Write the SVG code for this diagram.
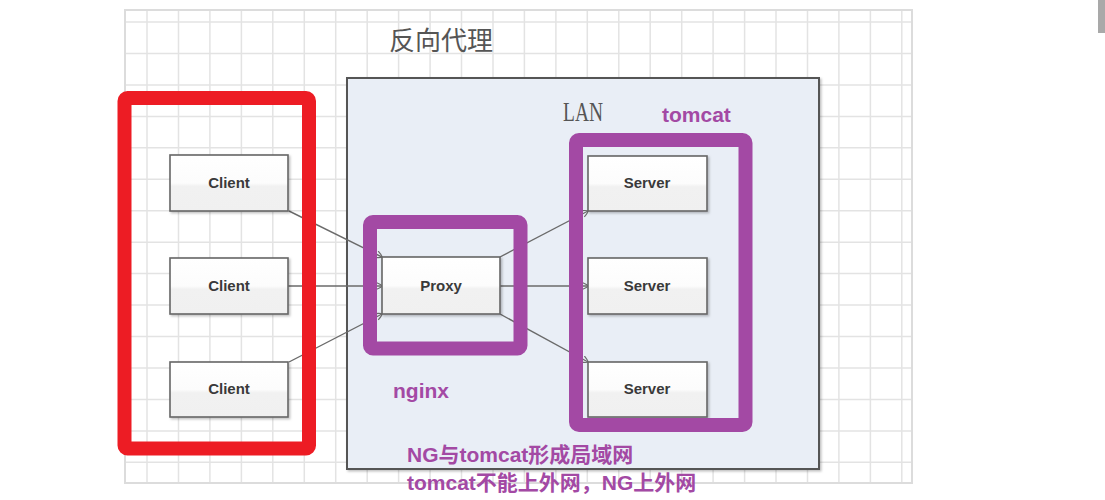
<svg xmlns="http://www.w3.org/2000/svg" width="1105" height="500" viewBox="0 0 1105 500">
<style>
.grid{stroke:#e3e3e3;stroke-width:1.5;fill:none}
.box{fill:url(#boxg);stroke:#666;stroke-width:1.6}
.lbl{font-family:"Liberation Sans","DejaVu Sans",sans-serif;font-weight:bold;font-size:15px;fill:#3a3a3a;text-anchor:middle}
.conn{stroke:#6a6a6a;stroke-width:1.4;fill:none;marker-end:url(#arr)}
.purple{fill:#a349a4;font-family:"Liberation Sans","Noto Sans CJK SC",sans-serif;font-weight:bold;font-size:21px}
.hl{fill:none;stroke-width:14;stroke-linejoin:round}
</style>
<defs>
<linearGradient id="boxg" x1="0" y1="0" x2="0" y2="1">
<stop offset="0" stop-color="#ffffff"/>
<stop offset="0.5" stop-color="#fcfcfc"/>
<stop offset="0.56" stop-color="#f1f1f1"/>
<stop offset="1" stop-color="#f0f0f0"/>
</linearGradient>
<marker id="arr" markerWidth="10" markerHeight="10" refX="7" refY="4" orient="auto" markerUnits="userSpaceOnUse">
<path d="M1,0.5 Q7,3 7,4 Q7,5 1,7.5" fill="none" stroke="#6a6a6a" stroke-width="1.2"/>
</marker>
<filter id="sh" x="-10%" y="-10%" width="130%" height="130%">
<feDropShadow dx="1.5" dy="1.5" stdDeviation="1" flood-color="#000" flood-opacity="0.25"/>
</filter>
</defs>
<rect width="1105" height="500" fill="#ffffff"/>
<g id="background">
<rect x="125" y="10" width="787" height="473" fill="#ffffff" stroke="#dcdcdc" stroke-width="2"/>
<path class="grid" d="M147,11V482M178.5,11V482M209.9,11V482M241.4,11V482M272.8,11V482M304.3,11V482M335.7,11V482M367.2,11V482M398.6,11V482M430.1,11V482M461.5,11V482M493,11V482M524.4,11V482M555.9,11V482M587.3,11V482M618.8,11V482M650.2,11V482M681.7,11V482M713.1,11V482M744.6,11V482M776,11V482M807.5,11V482M838.9,11V482M870.4,11V482M901.8,11V482"/>
<path class="grid" d="M126,22H911M126,53.5H911M126,84.9H911M126,116.4H911M126,147.8H911M126,179.3H911M126,210.7H911M126,242.2H911M126,273.6H911M126,305.1H911M126,336.5H911M126,368H911M126,399.4H911M126,430.9H911M126,462.3H911"/>
<rect x="1098" y="0" width="7" height="33" fill="#a9a9a9"/>
</g>
<text id="title" x="389" y="50" font-family="'Noto Sans CJK SC',sans-serif" font-size="26" fill="#555">反向代理</text>
<g id="lan">
<rect x="347" y="78" width="472" height="391" fill="#e9eef6" stroke="#555" stroke-width="2" filter="url(#sh)"/>
<text x="563" y="121" font-family="'Liberation Serif',serif" font-size="27" fill="#555" textLength="40" lengthAdjust="spacingAndGlyphs">LAN</text>
</g>
<g id="connectors">
<line class="conn" x1="289" y1="211" x2="382" y2="257"/>
<line class="conn" x1="288" y1="286" x2="382" y2="286"/>
<line class="conn" x1="289" y1="362" x2="382" y2="314"/>
<line class="conn" x1="500" y1="257" x2="588" y2="211"/>
<line class="conn" x1="500" y1="286" x2="588" y2="286"/>
<line class="conn" x1="500" y1="314" x2="588" y2="362"/>
</g>
<g id="client1"><rect class="box" x="170" y="155" width="118" height="56" filter="url(#sh)"/><text class="lbl" x="229" y="188">Client</text></g>
<g id="client2"><rect class="box" x="170" y="258" width="118" height="56" filter="url(#sh)"/><text class="lbl" x="229" y="291">Client</text></g>
<g id="client3"><rect class="box" x="170" y="362" width="118" height="55" filter="url(#sh)"/><text class="lbl" x="229" y="394">Client</text></g>
<g id="proxy"><rect class="box" x="382" y="257" width="118" height="57" filter="url(#sh)"/><text class="lbl" x="441" y="291">Proxy</text></g>
<g id="server1"><rect class="box" x="588" y="156" width="119" height="55" filter="url(#sh)"/><text class="lbl" x="647" y="188">Server</text></g>
<g id="server2"><rect class="box" x="588" y="258" width="119" height="56" filter="url(#sh)"/><text class="lbl" x="647" y="291">Server</text></g>
<g id="server3"><rect class="box" x="588" y="362" width="119" height="55" filter="url(#sh)"/><text class="lbl" x="647" y="394">Server</text></g>
<g id="clients-highlight"><rect class="hl" x="124.5" y="98" width="184.5" height="350.5" rx="3" stroke="#ed1c24" stroke-width="15"/></g>
<g id="nginx-highlight"><rect class="hl" x="370" y="222" width="150.5" height="126.5" rx="3" stroke="#a349a4"/><text class="purple" x="393" y="398">nginx</text></g>
<g id="tomcat-highlight"><rect class="hl" x="576" y="140" width="169.5" height="285" rx="3" stroke="#a349a4"/><text class="purple" x="662" y="122">tomcat</text></g>
<g id="notes">
<text class="purple" x="407" y="462">NG与tomcat形成局域网</text>
<text class="purple" x="407" y="490">tomcat不能上外网，NG上外网</text>
</g>
</svg>
